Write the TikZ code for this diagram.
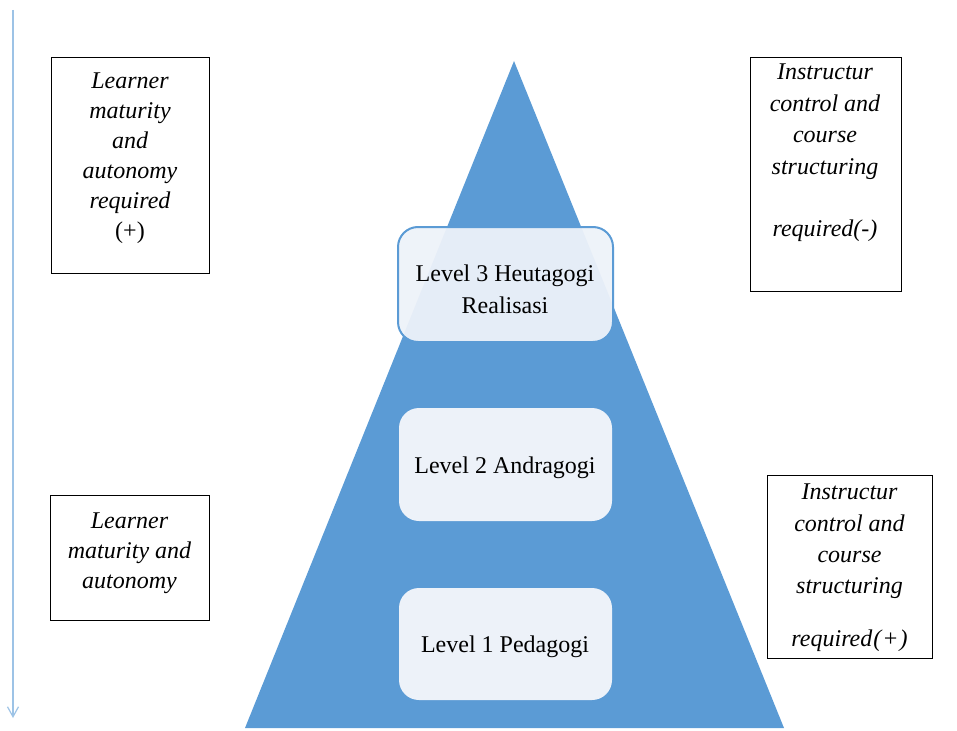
\documentclass[tikz,border=0pt]{standalone}
\usepackage{fontspec}
\setmainfont{Liberation Serif}
\usetikzlibrary{arrows.meta}
\definecolor{pyrblue}{HTML}{5B9BD5}
\definecolor{paleblue}{HTML}{EDF2F9}
\definecolor{axisblue}{HTML}{9DC3E6}
\begin{document}
\begin{tikzpicture}[x=1pt,y=-1pt,
  notebox/.style={draw=black,line width=0.8pt,inner sep=0pt},
  notetext/.style={align=center,inner sep=0pt,font=\fontsize{24}{#1}\selectfont\itshape},
  levelbox/.style={fill=paleblue,rounded corners=20pt,inner sep=0pt},
  leveltext/.style={align=center,inner sep=0pt,font=\fontsize{24}{32}\selectfont}]
\useasboundingbox (0,0) rectangle (957,730);

% pyramid
\coordinate (apex) at (514,61);
\coordinate (baseL) at (245,728);
\coordinate (baseR) at (784,728);
\fill[pyrblue] (apex) -- (baseR) -- (baseL) -- cycle;

% vertical axis on the left
\coordinate (axTop) at (13,10);
\coordinate (axBot) at (13,718);
\draw[axisblue,line width=1.4pt,-{Straight Barb[length=10pt,width=11pt,line width=1.2pt]}] (axTop) -- (axBot);

% level boxes
\path[levelbox,fill opacity=0.95,draw=pyrblue,line width=2pt] (398,227) rectangle (613,342);
\node[leveltext] (lv3) at (505,289) {Level 3 Heutagogi\\Realisasi};
\path[levelbox] (399,408) rectangle (612,521);
\node[leveltext] (lv2) at (505,468) {Level 2 Andragogi};
\path[levelbox] (399,588) rectangle (612,700);
\node[leveltext] (lv1) at (505,647) {Level 1 Pedagogi};

% side notes
\node[notebox,minimum width=158pt,minimum height=216pt] (tlbox) at (130,165) {};
\node[notetext=30] (tltext) at (130,158) {Learner\\maturity\\and\\autonomy\\required\\\upshape(+)};

\node[notebox,minimum width=151pt,minimum height=234pt] (trbox) at (825.5,174) {};
\node[notetext=31.5] (trtext) at (825,153) {Instructur\\control and\\course\\structuring\\[31pt]required(-)};

\node[notebox,minimum width=159pt,minimum height=125pt] (blbox) at (129.5,557.5) {};
\node[notetext=30] (bltext) at (129.5,553) {Learner\\maturity and\\autonomy};

\node[notebox,minimum width=165pt,minimum height=183pt] (brbox) at (849.5,566.5) {};
\node[notetext=31.3] (brtext) at (849.5,568) {Instructur\\control and\\course\\structuring\\[22pt]required\kern1pt(\kern1pt+\kern1pt)};
\end{tikzpicture}
\end{document}
